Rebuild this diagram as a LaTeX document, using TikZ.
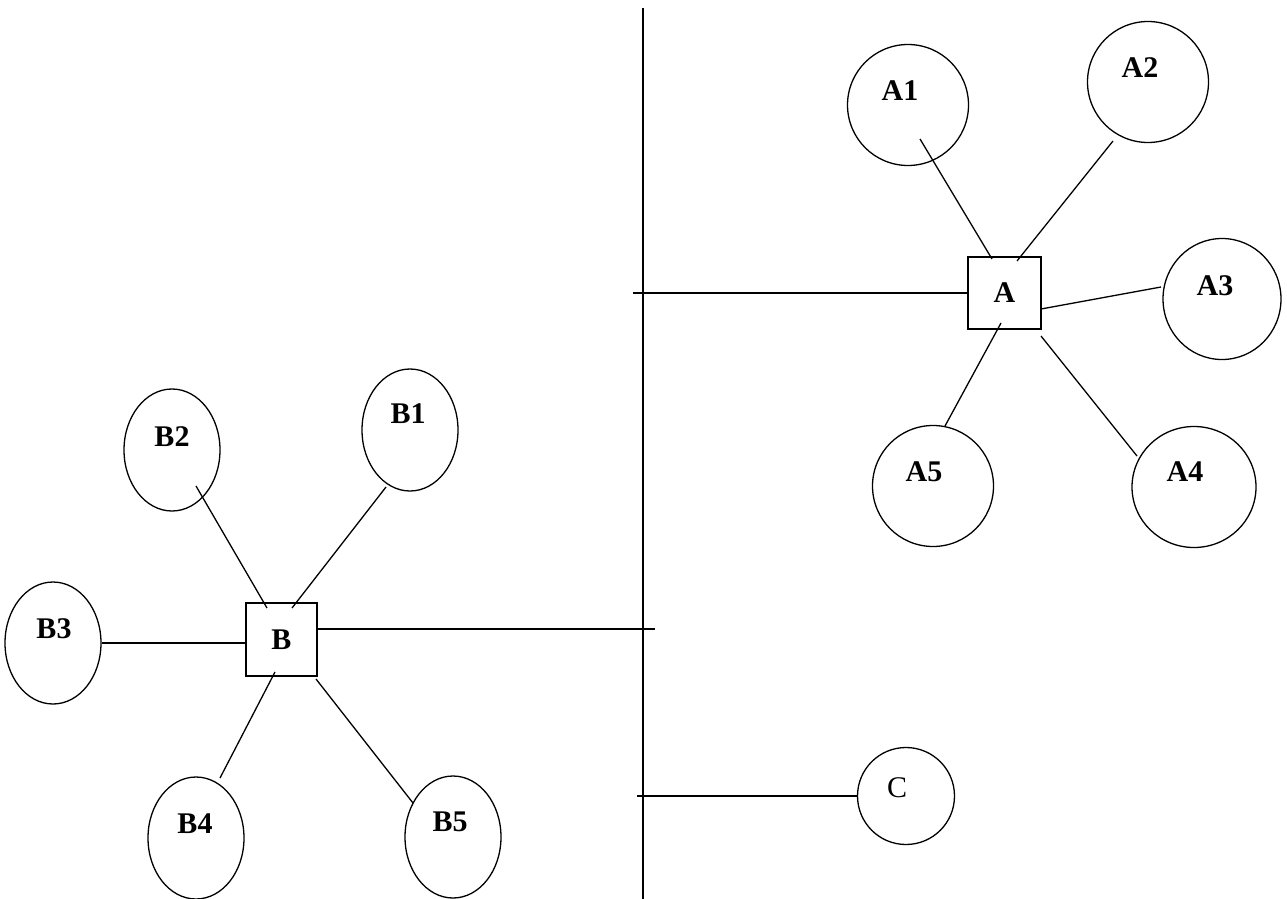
\documentclass[tikz,border=0pt]{standalone}
\usepackage{fontspec}
\setmainfont{Liberation Serif}
\usetikzlibrary{shapes.geometric,calc}

\begin{document}
\begin{tikzpicture}[x=1pt,y=-1pt,line width=1.3pt,
    every label/.style={font=\fontsize{30}{36}\selectfont\bfseries},
    leafA/.style={ellipse,draw,inner sep=0pt,
      minimum width=121pt,minimum height=121pt},
    leafB/.style={ellipse,draw,inner sep=0pt,
      minimum width=96pt,minimum height=122pt},
    hub/.style={rectangle,draw,inner sep=0pt,
      font=\fontsize{30}{36}\selectfont\bfseries}]

        \useasboundingbox (0,0) rectangle (1287,899);

        % the vertical line and the free ends of the branches
        \coordinate (top)    at (643,8);
        \coordinate (bottom) at (643,899);
        \coordinate (tA)     at (633,293);
        \coordinate (tB)     at (655,629);
        \coordinate (tC)     at (637,796);

        \node[leafA,label={[shift={(-8,-14)}]center:A1}] (A1) at (908,105)  {};
        \node[leafA,label={[shift={(-8,-14)}]center:A2}] (A2) at (1148,82)  {};
        \node[leafA,label={[shift={(-7,-13)}]center:A3},minimum width=118pt] (A3) at (1222,299) {};
        \node[leafA,label={[shift={(-9,-15)}]center:A4},minimum width=124pt] (A4) at (1194,487) {};
        \node[leafA,label={[shift={(-9,-14)}]center:A5}] (A5) at (933,486)  {};

        \node[leafB,label={[shift={(-2,-16)}]center:B1}] (B1) at (410,430) {};
        \node[leafB,label={[shift={(0,-13)}]center:B2}]  (B2) at (172,450) {};
        \node[leafB,label={[shift={(1,-14)}]center:B3}]  (B3) at (53,643)  {};
        \node[leafB,label={[shift={(-1,-14)}]center:B4}] (B4) at (196,838) {};
        \node[leafB,label={[shift={(-3,-15)}]center:B5}] (B5) at (453,837) {};

        \node[circle,draw,inner sep=0pt,minimum size=97pt,
          label={[shift={(-9,-8)},font=\fontsize{30}{36}\selectfont]center:C}] (C) at (906,796) {};

        \node[hub,minimum width=73pt,minimum height=72pt] (A) at (1004.5,293)  {A};
        \node[hub,minimum width=71pt,minimum height=73pt] (B) at (281.5,639.5) {B};

        \draw[line width=2pt] (top) -- (bottom);

        \draw (tA) -- (A.west);
        \draw ($(B.east)+(0,-10.5)$) -- (tB);
        \draw (tC) -- (C.west);

        \draw ($(A1)+(12,34)$)   -- ($(A)+(-12.5,-34)$);
        \draw ($(A2)+(-35,59)$)  -- ($(A)+(12.5,-32)$);
        \draw ($(A3)+(-61,-12)$) -- ($(A)+(36.5,16)$);
        \draw ($(A4)+(-57,-31)$) -- ($(A)+(36.5,43)$);
        \draw ($(A5)+(12,-60)$)  -- ($(A)+(-3.5,30)$);

        \draw ($(B1)+(-24,57)$)  -- ($(B)+(10.5,-31.5)$);
        \draw ($(B2)+(24,36)$)   -- ($(B)+(-14.5,-31.5)$);
        \draw (B3.east)          -- (B3.east -| B.west);
        \draw ($(B4)+(24,-60)$)  -- ($(B)+(-6.5,32.5)$);
        \draw ($(B5)+(-40,-34)$) -- ($(B)+(34.5,39.5)$);

      \end{tikzpicture}
\end{document}
